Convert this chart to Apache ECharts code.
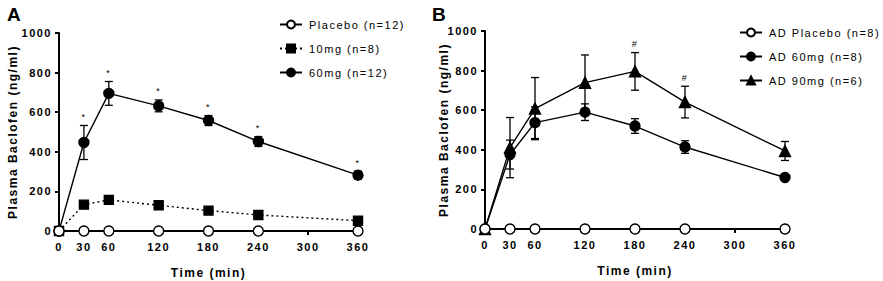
<!DOCTYPE html>
<html>
<head>
<meta charset="utf-8">
<script src="https://cdn.jsdelivr.net/npm/echarts@6/dist/echarts.min.js"></script>
<style>
  html, body { margin: 0; padding: 0; background: #fff; }
  #main { width: 883px; height: 281px; }
  /* the original figure uses widely tracked lettering */
  #main text { letter-spacing: 1.5px; }
</style>
</head>
<body>
<div id="main"></div>
<script>
// time points (min)
const times = [0, 30, 60, 120, 180, 240, 360];
const tickValues = [0, 30, 60, 120, 180, 240, 300, 360];

// panel A
const placeboA = [0, 0, 0, 0, 0, 0, 0];
const mg10 = [0, 133, 157, 130, 103, 81, 52];
const mg60 = [0, 447, 695, 632, 558, 452, 282];
const mg60Err = [0, 86, 60, 30, 25, 25, 20];
const mg60Marks = ['', '*', '*', '*', '*', '*', '*'];

// panel B
const placeboB = [0, 0, 0, 0, 0, 0, 0];
const ad60 = [0, 376, 537, 590, 520, 414, 260];
const ad60Err = [0, 73, 80, 42, 37, 32, 6];
const ad90 = [0, 411, 608, 739, 796, 641, 394];
const ad90Err = [0, 152, 157, 140, 95, 80, 48];
const ad90Marks = ['', '', '', '', '#', '#', ''];

const FONT = 'Liberation Sans, Arial, sans-serif';
const pairs = (ys) => times.map((t, i) => [t, ys[i]]);
const triples = (ys, es) => times.map((t, i) => [t, ys[i], es[i]]).filter(d => d[2] > 0);
const marked = (ys, es, ms) => times.map((t, i) => ({ pos: [t, ys[i] + es[i]], text: ms[i] })).filter(d => d.text);

function errorBarItem(params, api) {
  const x = api.value(0), y = api.value(1), e = api.value(2);
  const top = api.coord([x, y + e]);
  const bot = api.coord([x, y - e]);
  const hw = 4;
  const style = { stroke: '#000', lineWidth: 1.3 };
  return {
    type: 'group',
    children: [
      { type: 'line', shape: { x1: top[0], y1: top[1], x2: bot[0], y2: bot[1] }, style },
      { type: 'line', shape: { x1: top[0] - hw, y1: top[1], x2: top[0] + hw, y2: top[1] }, style },
      { type: 'line', shape: { x1: bot[0] - hw, y1: bot[1], x2: bot[0] + hw, y2: bot[1] }, style },
    ],
  };
}

// significance marks above the error bars
function markSeries(idx, marks) {
  return {
    type: 'custom',
    xAxisIndex: idx,
    yAxisIndex: idx,
    data: marks.map(m => m.pos),
    z: 2,
    silent: true,
    renderItem: (params, api) => {
      const p = api.coord([api.value(0), api.value(1)]);
      return {
        type: 'text',
        x: p[0],
        y: p[1] - 4,
        style: {
          text: marks[params.dataIndex].text,
          fill: '#000',
          font: '9px ' + FONT,
          textAlign: 'center',
          textVerticalAlign: 'bottom',
        },
      };
    },
  };
}

const lineSeries = (name, idx, data, symbol, size, filled, dotted) => ({
  type: 'line',
  name,
  xAxisIndex: idx,
  yAxisIndex: idx,
  data,
  symbol,
  symbolSize: size,
  showAllSymbol: true,
  lineStyle: { color: '#000', width: 1.4, type: dotted ? [2, 3] : 'solid' },
  itemStyle: { color: filled ? '#000' : '#fff', borderColor: '#000', borderWidth: 1.4 },
  z: filled ? 3 : 4,
  emphasis: { disabled: true },
  animation: false,
});

const xAxisOf = (idx) => ({
  type: 'value',
  gridIndex: idx,
  min: 0,
  max: 360,
  interval: 30,
  name: 'Time (min)',
  nameLocation: 'middle',
  nameGap: 36,
  nameTextStyle: { fontFamily: FONT, fontWeight: 'bold', fontSize: 12, color: '#000' },
  axisLine: { lineStyle: { color: '#000', width: 2 } },
  axisTick: { customValues: tickValues, length: 4, lineStyle: { color: '#000', width: 2 } },
  axisLabel: { customValues: tickValues, margin: 10, fontFamily: FONT, fontWeight: 'bold', fontSize: 11, color: '#000' },
  splitLine: { show: false },
});

const yAxisOf = (idx, gap) => ({
  type: 'value',
  gridIndex: idx,
  min: 0,
  max: 1000,
  interval: 200,
  name: 'Plasma Baclofen (ng/ml)',
  nameLocation: 'middle',
  nameGap: gap,
  nameTextStyle: { fontFamily: FONT, fontWeight: 'bold', fontSize: 12, color: '#000' },
  axisLine: { show: true, lineStyle: { color: '#000', width: 2 } },
  axisTick: { show: true, length: 4, lineStyle: { color: '#000', width: 2 } },
  axisLabel: { margin: 7, formatter: v => String(v), fontFamily: FONT, fontWeight: 'bold', fontSize: 11, color: '#000' },
  splitLine: { show: false },
});

const legendOf = (names, left, top) => ({
  data: names,
  orient: 'vertical',
  left,
  top,
  itemWidth: 22,
  itemHeight: 10,
  itemGap: 13,
  selectedMode: false,
  textStyle: { fontFamily: FONT, fontSize: 11, color: '#000', padding: [0, 0, 0, 2] },
});

const chart = echarts.init(document.getElementById('main'), null, { renderer: 'svg' });

chart.setOption({
  animation: false,
  title: [
    { text: 'A', left: 2, top: 0, textStyle: { fontFamily: FONT, fontWeight: 'bold', fontSize: 19, color: '#000' } },
    { text: 'B', left: 427, top: 0, textStyle: { fontFamily: FONT, fontWeight: 'bold', fontSize: 19, color: '#000' } },
  ],
  legend: [
    legendOf(['Placebo (n=12)', '10mg (n=8)', '60mg (n=12)'], 274, 14),
    legendOf(['AD Placebo (n=8)', 'AD 60mg (n=8)', 'AD 90mg (n=6)'], 734, 22),
  ],
  grid: [
    { left: 59, top: 33, width: 299, height: 198, outerBoundsMode: 'none' },
    { left: 485, top: 31, width: 300, height: 198, outerBoundsMode: 'none' },
  ],
  xAxis: [xAxisOf(0), xAxisOf(1)],
  yAxis: [yAxisOf(0, 40), yAxisOf(1, 32)],
  series: [
    { type: 'custom', xAxisIndex: 0, yAxisIndex: 0, data: triples(mg60, mg60Err), renderItem: errorBarItem, z: 2, silent: true },
    markSeries(0, marked(mg60, mg60Err, mg60Marks)),
    lineSeries('10mg (n=8)', 0, pairs(mg10), 'rect', 9, true, true),
    lineSeries('60mg (n=12)', 0, pairs(mg60), 'circle', 10, true, false),
    lineSeries('Placebo (n=12)', 0, pairs(placeboA), 'circle', 10, false, false),

    { type: 'custom', xAxisIndex: 1, yAxisIndex: 1, data: triples(ad90, ad90Err), renderItem: errorBarItem, z: 2, silent: true },
    { type: 'custom', xAxisIndex: 1, yAxisIndex: 1, data: triples(ad60, ad60Err), renderItem: errorBarItem, z: 2, silent: true },
    markSeries(1, marked(ad90, ad90Err, ad90Marks)),
    lineSeries('AD 90mg (n=6)', 1, pairs(ad90), 'triangle', 11, true, false),
    lineSeries('AD 60mg (n=8)', 1, pairs(ad60), 'circle', 10, true, false),
    lineSeries('AD Placebo (n=8)', 1, pairs(placeboB), 'circle', 10, false, false),
  ],
});
</script>
</body>
</html>
